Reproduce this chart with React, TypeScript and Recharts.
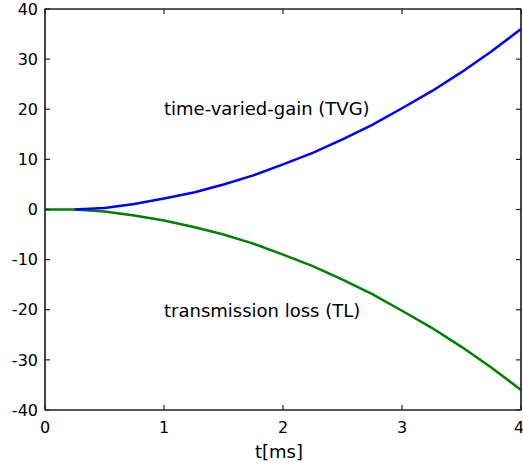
import { LineChart, Line, XAxis, YAxis, ReferenceDot, ReferenceArea, Label } from 'recharts';

const times = [0, 0.25, 0.5, 0.75, 1, 1.25, 1.5, 1.75, 2, 2.25, 2.5, 2.75, 3, 3.25, 3.5, 3.75, 4];
const tvg = [null, 0, 0.3, 1.1, 2.2, 3.4, 5.0, 6.8, 9.0, 11.3, 14.0, 16.9, 20.2, 23.6, 27.4, 31.5, 36.0];
const tl = [0, 0, -0.4, -1.2, -2.2, -3.5, -5.0, -6.8, -9.0, -11.3, -14.0, -16.9, -20.2, -23.6, -27.4, -31.5, -36.0];

const xTicks = [0, 1, 2, 3, 4];
const yTicks = [-40, -30, -20, -10, 0, 10, 20, 30, 40];

const FONT = '"DejaVu Sans", Arial, sans-serif';
const INK = '#222';

const data = times.map((t, i) => ({ t, tvg: tvg[i], tl: tl[i] }));

type TickProps = { x?: number; y?: number; payload?: { value: number } };

function XTickLabel({ x, y, payload }: TickProps) {
  return (
    <text x={x} y={y} dy="0.71em" textAnchor="middle" fontSize={16} fontFamily={FONT} fill="#000">
      {payload?.value}
    </text>
  );
}

function YTickLabel({ x, y, payload }: TickProps) {
  return (
    <text x={x} y={y} dy="0.355em" textAnchor="end" fontSize={16} fontFamily={FONT} fill="#000">
      {payload?.value}
    </text>
  );
}

function Note({ viewBox, text }: { viewBox?: { x: number; y: number }; text: string }) {
  if (!viewBox) return null;
  return (
    <text x={viewBox.x} y={viewBox.y} fontSize={18} fontFamily={FONT} fill="#000">
      {text}
    </text>
  );
}

const blankTick = () => <g />;

export default function App() {
  const axisLine = { stroke: INK, strokeWidth: 1.2 };
  return (
    <div style={{ position: 'absolute', left: 0, top: 0 }}>
      <LineChart width={523} height={468} data={data} margin={{ top: 1, right: 1, left: 0, bottom: 0 }}>
        {/* negative tickSize puts the tick marks inside the box, like matlab */}
        <XAxis
          dataKey="t"
          type="number"
          domain={[0, 4]}
          ticks={xTicks}
          height={58}
          stroke={INK}
          axisLine={axisLine}
          tickLine={axisLine}
          tickSize={-5}
          tickMargin={17}
          tick={XTickLabel}
        >
          <Label value="t[ms]" position="insideBottom" offset={10} dx={-4} fontSize={18} fontFamily={FONT} fill="#000" />
        </XAxis>
        <YAxis
          type="number"
          domain={[-40, 40]}
          ticks={yTicks}
          width={45}
          stroke={INK}
          axisLine={axisLine}
          tickLine={axisLine}
          tickSize={-5}
          tickMargin={12}
          tick={YTickLabel}
        />
        <XAxis xAxisId="top" dataKey="t" type="number" domain={[0, 4]} ticks={xTicks} orientation="top" height={8} stroke={INK} axisLine={axisLine} tickLine={axisLine} tickSize={-5} tick={blankTick} />
        <YAxis yAxisId="right" type="number" domain={[-40, 40]} ticks={yTicks} orientation="right" width={1} stroke={INK} axisLine={axisLine} tickLine={axisLine} tickSize={-5} tick={blankTick} />
        <Line xAxisId="top" yAxisId="right" dataKey="tl" stroke="none" dot={false} isAnimationActive={false} />
        <ReferenceArea x1={0} x2={4} y1={-40} y2={40} fill="none" stroke={INK} strokeWidth={1.2} ifOverflow="visible" />
        <Line dataKey="tl" stroke="#008000" strokeWidth={2.5} dot={false} isAnimationActive={false} />
        <Line dataKey="tvg" stroke="#0000ff" strokeWidth={2.5} dot={false} isAnimationActive={false} />
        <ReferenceDot x={1.0} y={18.9} r={0} fill="none" stroke="none" label={<Note text="time-varied-gain (TVG)" />} />
        <ReferenceDot x={1.0} y={-21.4} r={0} fill="none" stroke="none" label={<Note text="transmission loss (TL)" />} />
      </LineChart>
    </div>
  );
}
